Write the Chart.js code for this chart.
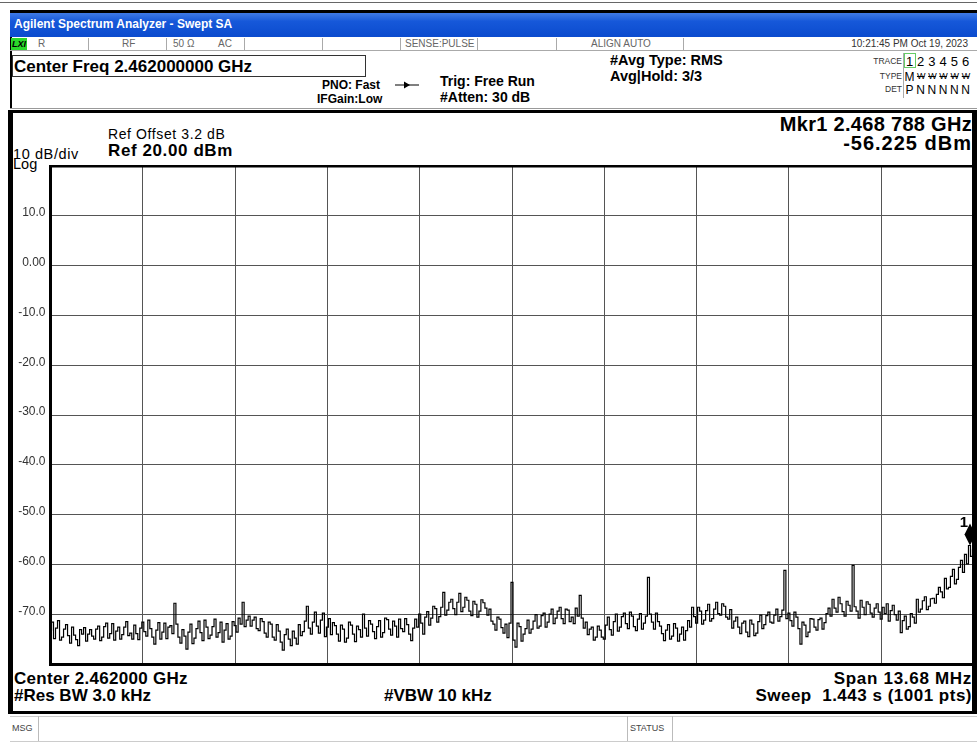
<!DOCTYPE html>
<html>
<head>
<meta charset="utf-8">
<script src="https://cdn.jsdelivr.net/npm/chart.js@4/dist/chart.umd.min.js"></script>
<style>
body { margin: 0; background: #fff; }
#page { position: relative; width: 977px; height: 743px; overflow: hidden; font-family: "Liberation Sans", Arial, sans-serif; color: #000; }
.t { position: absolute; white-space: pre; line-height: 1; }
.b { font-weight: bold; }
.r { text-align: right; }
.box { position: absolute; }
.small { font-size: 10px; color: #666; }
#chart { position: absolute; left: 0; top: 0; z-index: 1; }
.frame { position: absolute; background: #000; z-index: 2; }
.col { position: absolute; width: 11px; text-align: center; line-height: 1; }
</style>
</head>
<body>
<div id="page">
  <!-- window chrome -->
  <div class="box" style="left:0;top:2px;width:977px;height:1px;background:#666"></div>
  <div class="box" style="left:10px;top:10px;width:967px;height:3px;background:#000"></div>
  <div class="box" style="left:10px;top:13px;width:967px;height:24px;background:linear-gradient(#3f7ae6,#1658d9 35%,#0b4bce)"></div>
  <div class="t b" style="left:14px;top:18px;font-size:12px;color:#fff">Agilent Spectrum Analyzer - Swept SA</div>
  <div class="box" style="left:10px;top:37px;width:1.5px;height:71px;background:#000"></div>

  <!-- status row -->
  <div class="box" style="left:10px;top:50px;width:967px;height:1px;background:#aaa"></div>
  <div class="box" style="left:11px;top:38px;width:16px;height:12px;background:#2bd82b"></div>
  <div class="t b" style="left:12px;top:39.5px;font-size:9px;font-style:italic">LXI</div>
  <div class="t small" style="left:38px;top:39.4px">R</div>
  <div class="t small" style="left:122px;top:39.4px">RF</div>
  <div class="t small" style="left:173px;top:39.4px">50 Ω</div>
  <div class="t small" style="left:218px;top:39.4px">AC</div>
  <div class="t small" style="left:405px;top:39.4px">SENSE:PULSE</div>
  <div class="t small" style="left:591px;top:39.4px">ALIGN AUTO</div>
  <div class="t small r" style="right:9px;top:39.4px;color:#333">10:21:45 PM Oct 19, 2023</div>
  <div id="seps"></div>

  <!-- settings row -->
  <div class="box" style="left:12px;top:55px;width:352px;height:20px;border:1px solid #333"></div>
  <div class="t b" style="left:14px;top:57.8px;font-size:17px">Center Freq 2.462000000 GHz</div>
  <div class="t b" style="left:322px;top:79.4px;font-size:12px">PNO: Fast</div>
  <div class="t b" style="left:317px;top:92.7px;font-size:12px">IFGain:Low</div>
  <svg class="box" style="left:394px;top:80px" width="26" height="10">
    <line x1="1" y1="5" x2="25" y2="5" stroke="#000" stroke-width="1"/>
    <polygon points="10,1.5 16,5 10,8.5" fill="#000"/>
  </svg>
  <div class="t b" style="left:440px;top:74.2px;font-size:14px">Trig: Free Run</div>
  <div class="t b" style="left:440px;top:89.9px;font-size:14px">#Atten: 30 dB</div>
  <div class="t b" style="left:610px;top:53.2px;font-size:14.5px">#Avg Type: RMS</div>
  <div class="t b" style="left:610px;top:68.8px;font-size:14.5px">Avg|Hold: 3/3</div>
  <div class="t r" style="right:75px;top:57px;font-size:8.5px;color:#333">TRACE</div>
  <div class="t r" style="right:75px;top:71.5px;font-size:8.5px;color:#333">TYPE</div>
  <div class="t r" style="right:75px;top:85px;font-size:8.5px;color:#333">DET</div>
  <div class="box" style="left:903px;top:53px;width:1px;height:45px;background:#aaa"></div>
  <div class="box" style="left:904px;top:53px;width:10px;height:13px;border:1px solid #6c6"></div>
  <div id="traceTable"></div>
  <div class="box" style="left:10px;top:108px;width:967px;height:1px;background:#999"></div>

  <!-- plot annotations -->
  <div class="t" style="left:108px;top:127px;font-size:14px;letter-spacing:0.6px">Ref Offset 3.2 dB</div>
  <div class="t b" style="left:108px;top:141.5px;font-size:17px;letter-spacing:0.6px">Ref 20.00 dBm</div>
  <div class="t" style="left:13px;top:147px;font-size:14.5px;letter-spacing:0.6px">10 dB/div</div>
  <div class="t" style="left:13px;top:156.5px;font-size:14.5px">Log</div>
  <div class="t b r" style="right:5px;top:114px;font-size:20px;letter-spacing:0.3px">Mkr1 2.468 788 GHz</div>
  <div class="t b r" style="right:5px;top:133.4px;font-size:20px;letter-spacing:1px">-56.225 dBm</div>
  <div class="t b" style="left:14px;top:669.5px;font-size:17px;letter-spacing:0.3px">Center 2.462000 GHz</div>
  <div class="t b" style="left:14px;top:687px;font-size:17px">#Res BW 3.0 kHz</div>
  <div class="t b" style="left:384px;top:687px;font-size:17px">#VBW 10 kHz</div>
  <div class="t b r" style="right:5px;top:669.5px;font-size:17px;letter-spacing:0.7px">Span 13.68 MHz</div>
  <div class="t b r" style="right:5px;top:687px;font-size:17px;letter-spacing:0.5px">Sweep  1.443 s (1001 pts)</div>

  <!-- message row -->
  <div class="box" style="left:10px;top:716px;width:967px;height:1px;background:#ccc"></div>
  <div class="box" style="left:10px;top:741px;width:967px;height:1px;background:#ccc"></div>
  <div class="box" style="left:38px;top:716px;width:1px;height:25px;background:#bbb"></div>
  <div class="box" style="left:627px;top:716px;width:1px;height:25px;background:#bbb"></div>
  <div class="box" style="left:672px;top:716px;width:1px;height:25px;background:#bbb"></div>
  <div class="t" style="left:12px;top:724px;font-size:9px;color:#444">MSG</div>
  <div class="t" style="left:630px;top:724px;font-size:9px;color:#444">STATUS</div>

  <canvas id="chart" width="977" height="743"></canvas>

  <!-- thick measurement frame -->
  <div class="frame" style="left:8px;top:110px;width:969px;height:3px"></div>
  <div class="frame" style="left:8px;top:110px;width:5px;height:604px"></div>
  <div class="frame" style="left:972px;top:110px;width:5px;height:604px"></div>
  <div class="frame" style="left:8px;top:711px;width:969px;height:3px"></div>
</div>

<script>
// sweep settings (GHz)
var centerFreq = 2.462;
var spanFreq = 0.01368;

// y axis: dBm, 10 dB/div
var yTicks = [10, 0, -10, -20, -30, -40, -50, -60, -70];
var yTickLabels = ["10.0", "0.00", "-10.0", "-20.0", "-30.0", "-40.0", "-50.0", "-60.0", "-70.0"];

// trace 1 left to right (dBm), evenly spaced across the span
var traceDbm = [
    -73.2, -71.6, -74.9, -72.8, -71.3, -75.2, -74.6, -73.0, -72.1, -74.3, -75.8, -72.6, -74.2, -75.1, -76.3, -73.1, -74.0, -72.7, -75.4, -74.0,
    -73.1, -74.4, -75.0, -73.0, -72.4, -75.3, -74.6, -72.5, -71.8, -74.8, -73.9, -71.9, -75.2, -73.4, -72.6, -75.0, -74.1, -72.6, -71.5, -74.3,
    -73.8, -75.0, -72.2, -73.9, -75.1, -72.8, -71.6, -73.5, -74.4, -71.2, -72.9, -74.6, -76.0, -73.2, -71.7, -75.0, -73.6, -71.8, -74.9, -72.6,
    -72.3, -73.9, -67.8, -72.0, -74.6, -75.8, -73.1, -74.4, -77.0, -73.6, -72.0, -75.9, -74.8, -72.9, -71.4, -73.7, -75.3, -71.2, -72.6, -74.9,
    -74.2, -72.5, -71.0, -74.6, -73.7, -71.6, -75.6, -73.2, -71.9, -75.0, -74.4, -71.5, -72.3, -73.6, -70.8, -72.0, -67.6, -72.5, -71.2, -70.4,
    -72.4, -71.2, -70.6, -72.9, -73.3, -70.9, -71.5, -73.8, -74.6, -71.6, -72.0, -74.6, -75.2, -72.1, -73.4, -75.6, -77.2, -74.1, -73.0, -75.0,
    -76.3, -73.4, -74.8, -76.0, -72.1, -74.3, -73.5, -71.4, -68.4, -72.8, -74.0, -71.6, -69.6, -72.4, -73.8, -71.2, -69.8, -74.5, -72.6, -70.9,
    -74.1, -71.7, -72.3, -74.0, -75.4, -72.2, -73.0, -75.6, -74.8, -71.6, -72.2, -74.0, -75.5, -72.4, -73.1, -74.6, -70.0, -72.8, -74.4, -71.3,
    -72.0, -73.5, -74.9, -72.5, -71.3, -74.6, -73.7, -70.8, -71.1, -73.0, -74.2, -71.4, -72.4, -74.6, -71.0, -72.9, -73.5, -70.9, -72.1, -74.0,
    -75.3, -72.8, -71.0, -72.6, -70.0, -71.8, -74.0, -70.6, -69.5, -72.2, -70.8, -68.4, -68.9, -71.6, -70.5, -68.6, -65.6, -70.2, -69.2, -67.6,
    -67.0, -68.9, -70.1, -67.6, -65.8, -69.5, -68.6, -66.6, -67.2, -69.4, -70.3, -67.4, -68.0, -70.6, -69.4, -67.1, -67.7, -68.8, -70.2, -69.0,
    -71.4, -72.0, -73.2, -70.6, -71.0, -72.7, -73.8, -72.0, -74.7, -71.8, -63.6, -75.2, -76.6, -71.8, -72.5, -75.4, -74.0, -72.9, -71.2, -73.8,
    -73.0, -71.4, -70.1, -72.8, -72.4, -70.3, -69.8, -72.6, -71.6, -70.0, -69.0, -71.9, -70.8, -69.4, -68.6, -70.9, -71.9, -69.0, -69.2, -71.5,
    -70.6, -71.9, -68.8, -70.4, -66.2, -70.8, -72.8, -71.6, -74.1, -73.0, -72.6, -75.2, -74.6, -72.4, -73.2, -74.6, -75.0, -72.2, -70.6, -73.1,
    -74.2, -71.5, -70.0, -73.4, -72.6, -70.5, -69.8, -71.9, -72.9, -69.6, -70.4, -72.5, -73.3, -71.0, -69.9, -73.0, -71.8, -70.4, -62.6, -70.0,
    -71.6, -73.0, -69.8, -71.5, -72.4, -73.9, -75.3, -73.2, -72.1, -75.0, -74.4, -71.9, -72.8, -75.4, -74.0, -72.6, -75.2, -73.3, -71.3, -72.6,
    -68.6, -70.5, -71.8, -68.6, -69.4, -72.0, -71.2, -69.3, -68.0, -71.4, -70.9, -69.0, -67.6, -69.9, -70.2, -67.9, -68.4, -70.6, -71.0, -69.1,
    -72.8, -71.4, -70.6, -72.6, -73.9, -71.8, -71.4, -73.6, -74.5, -71.2, -72.0, -74.3, -73.8, -71.5, -70.2, -72.9, -72.1, -70.3, -69.6, -71.6,
    -71.8, -70.2, -69.0, -71.4, -70.5, -69.2, -61.2, -70.9, -69.8, -71.3, -72.4, -69.6, -70.6, -72.9, -76.0, -71.6, -72.2, -74.5, -73.6, -70.9,
    -71.0, -72.6, -73.2, -71.1, -70.8, -73.0, -71.7, -69.9, -68.8, -70.4, -67.0, -68.8, -69.6, -66.6, -67.9, -69.5, -70.4, -67.4, -68.2, -69.4,
    -60.2, -68.5, -69.4, -70.8, -67.2, -68.6, -70.1, -67.5, -68.0, -69.8, -70.6, -68.8, -67.9, -69.6, -71.0, -68.6, -69.9, -67.9, -71.4, -69.3,
    -68.2, -70.1, -71.2, -69.4, -73.7, -71.3, -70.4, -73.0, -72.5, -69.9, -70.6, -71.8, -67.0, -69.6, -69.0, -67.3, -66.5, -69.1, -68.4, -66.9,
    -66.8, -67.8, -66.0, -64.6, -65.5, -66.7, -62.8, -64.9, -64.6, -62.4, -61.0, -63.9, -63.0, -60.6, -59.2, -61.6, -58.0, -59.9, -56.2, -58.4,
    -57.0
];

// marker 1
var markerFreq = 2.468788;
var markerDbm = -56.225;

// trace table (top right)
var traceNums = ["1", "2", "3", "4", "5", "6"];
var traceTypes = ["M", "W", "W", "W", "W", "W"];
var traceDets = ["P", "N", "N", "N", "N", "N"];

var startFreq = centerFreq - spanFreq / 2;
var stopFreq = centerFreq + spanFreq / 2;

// status bar separators
var sepX = [88, 166, 244, 322, 400, 477, 556, 683];
var seps = document.getElementById("seps");
sepX.forEach(function (x) {
    var d = document.createElement("div");
    d.className = "box";
    d.style.cssText = "left:" + x + "px;top:38px;width:1px;height:12px;background:#aaa";
    seps.appendChild(d);
});

function addRow(items, top, size, extra) {
    var host = document.getElementById("traceTable");
    items.forEach(function (s, i) {
        var d = document.createElement("div");
        d.className = "col";
        d.style.cssText = "left:" + (904 + i * 11.2) + "px;top:" + top + "px;font-size:" + size + "px;" + (extra && i > 0 ? extra : "");
        d.textContent = s;
        host.appendChild(d);
    });
}
addRow(traceNums, 54.5, 13);
addRow(traceTypes, 70.5, 12, "font-size:9px;margin-top:1.5px;text-decoration:line-through;letter-spacing:-1px");
addRow(traceDets, 83.5, 12);

var points = traceDbm.map(function (v, i) {
    return { x: startFreq + i * spanFreq / (traceDbm.length - 1), y: v };
});

var markerPlugin = {
    id: "marker",
    afterDatasetsDraw: function (chart) {
        var ctx = chart.ctx;
        var px = chart.scales.x.getPixelForValue(markerFreq);
        var py = chart.scales.y.getPixelForValue(markerDbm);
        ctx.save();
        ctx.fillStyle = "#000";
        ctx.beginPath();
        ctx.moveTo(px, py);
        ctx.lineTo(px + 5.5, py - 11);
        ctx.lineTo(px, py - 22);
        ctx.lineTo(px - 5.5, py - 11);
        ctx.closePath();
        ctx.fill();
        ctx.font = "bold 15px 'Liberation Sans'";
        ctx.textAlign = "right";
        ctx.textBaseline = "alphabetic";
        ctx.fillText("1", px - 2, py - 19);
        ctx.restore();
    }
};

var gridColor = function (c) { return c.tick && c.tick.value === 20 ? "#000" : "#555"; };
var gridWidth = function (c) { return c.tick && c.tick.value === 20 ? 2.5 : 1; };

var ctx = document.getElementById("chart").getContext("2d");
var chart = new Chart(ctx, {
    type: "line",
    data: {
        datasets: [{
            label: "Trace 1",
            data: points,
            borderColor: "#000",
            borderWidth: 1.2,
            pointRadius: 0,
            stepped: "middle"
        }]
    },
    plugins: [markerPlugin],
    options: {
        responsive: false,
        animation: false,
        devicePixelRatio: 1,
        layout: { padding: { left: 12.5, top: 166, right: 3.5, bottom: 79 } },
        plugins: { legend: { display: false }, tooltip: { enabled: false } },
        scales: {
            x: {
                type: "linear",
                min: startFreq,
                max: stopFreq,
                afterBuildTicks: function (s) {
                    var t = [];
                    for (var i = 0; i <= 10; i++) t.push({ value: startFreq + i * spanFreq / 10 });
                    s.ticks = t;
                },
                afterFit: function (s) { s.height = 0; },
                ticks: { display: false },
                grid: { color: "#555", lineWidth: 1, drawTicks: false },
                border: { color: "#000", width: 3 }
            },
            y: {
                min: -80,
                max: 20,
                afterBuildTicks: function (s) {
                    var t = [{ value: 20 }];
                    yTicks.forEach(function (v) { t.push({ value: v }); });
                    t.push({ value: -80 });
                    s.ticks = t;
                },
                afterFit: function (s) { s.width = 38; },
                ticks: {
                    padding: 5,
                    labelOffset: -3,
                    color: "#333",
                    font: { family: "'Liberation Sans', Arial", size: 12 },
                    callback: function (v) {
                        var i = yTicks.indexOf(v);
                        return i < 0 ? "" : yTickLabels[i];
                    }
                },
                grid: { color: gridColor, lineWidth: gridWidth, drawTicks: false },
                border: { color: "#000", width: 3 }
            }
        }
    }
});
</script>
</body>
</html>
